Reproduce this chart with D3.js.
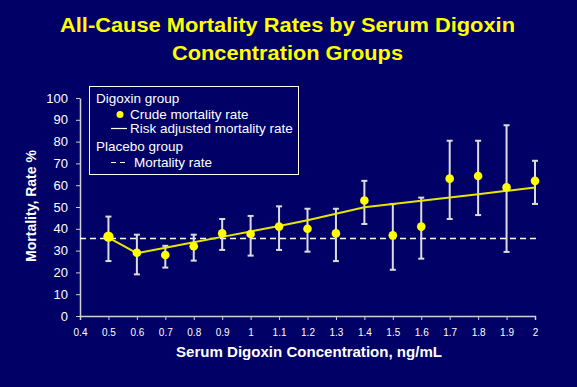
<!DOCTYPE html>
<html>
<head>
<meta charset="utf-8">
<script src="https://cdn.jsdelivr.net/npm/d3@7"></script>
<style>
  html, body { margin: 0; padding: 0; background: #000066; }
  svg { display: block; font-family: Arial, "Liberation Sans", sans-serif; }
</style>
</head>
<body>
<script>
// Serum digoxin concentration groups (ng/mL)
const concentration = [0.5, 0.6, 0.7, 0.8, 0.9, 1.0, 1.1, 1.2, 1.3, 1.4, 1.5, 1.6, 1.7, 1.8, 1.9, 2.0];
// Crude mortality rate (%) with error bar bounds
const crudeRate = [36.4, 29, 28, 32, 37.9, 37.6, 41, 40, 37.9, 53, 37, 41, 63, 64.2, 59, 62];
const crudeLow  = [25.2, 19.1, 22.2, 25.4, 30.3, 27.7, 30.3, 29.5, 25.2, 42.2, 21.2, 26.3, 44.5, 46.3, 29.4, 51.4];
const crudeHigh = [45.6, 37.3, 32.2, 37.3, 44.5, 45.9, 50.3, 49.2, 49.2, 62, 51.4, 54.3, 80.4, 80.4, 87.5, 71.2];
// Risk adjusted mortality rate (%)
const adjustedRate = [36, 28.8, 31.3, 33.8, 36.3, 38.8, 41.3, 43.9, 46.9, 49.9, 51.4, 52.9, 54.4, 55.9, 57.4, 58.9];
// Placebo group mortality rate (%)
const placeboRate = 35.5;

const xTicks = [0.4, 0.5, 0.6, 0.7, 0.8, 0.9, 1, 1.1, 1.2, 1.3, 1.4, 1.5, 1.6, 1.7, 1.8, 1.9, 2];
const yTicks = [0, 10, 20, 30, 40, 50, 60, 70, 80, 90, 100];

const width = 577;
const height = 387;

const svg = d3.select("body").append("svg")
  .attr("width", width)
  .attr("height", height);

svg.append("rect")
  .attr("width", width)
  .attr("height", height)
  .attr("fill", "#000066");

// Title (the slide font is a bit wider than Arial, so stretch to fit)
const title = svg.append("g")
  .attr("fill", "#ffff00")
  .attr("font-weight", "bold")
  .attr("font-size", 19.5);
title.append("text")
  .attr("x", 60).attr("y", 32)
  .attr("textLength", 455).attr("lengthAdjust", "spacingAndGlyphs")
  .text("All-Cause Mortality Rates by Serum Digoxin");
title.append("text")
  .attr("x", 172).attr("y", 60)
  .attr("textLength", 231).attr("lengthAdjust", "spacingAndGlyphs")
  .text("Concentration Groups");

const x = d3.scaleLinear().domain([0.4, 2]).range([80, 535]);
const y = d3.scaleLinear().domain([0, 100]).range([316, 98]);

const axisColor = "#d0d0d8";

// Axes
const xAxis = svg.append("g")
  .attr("transform", `translate(0,${y(0)})`)
  .call(d3.axisBottom(x).tickValues(xTicks).tickSize(4).tickPadding(9).tickFormat(d3.format("")));
xAxis.select(".domain").attr("stroke", axisColor).attr("stroke-width", 1.5);
xAxis.selectAll(".tick line").attr("stroke", axisColor);
xAxis.selectAll(".tick text").attr("fill", "#ffffff").attr("font-size", 10).attr("font-family", "Arial, 'Liberation Sans', sans-serif");

const yAxis = svg.append("g")
  .attr("transform", `translate(${x(0.4)},0)`)
  .call(d3.axisLeft(y).tickValues(yTicks).tickSize(4).tickSizeOuter(0).tickPadding(8));
yAxis.select(".domain").attr("stroke", axisColor).attr("stroke-width", 1.5);
yAxis.selectAll(".tick line").attr("stroke", axisColor);
yAxis.selectAll(".tick text").attr("fill", "#ffffff").attr("font-size", 13).attr("font-family", "Arial, 'Liberation Sans', sans-serif");

// Axis titles
svg.append("text")
  .attr("x", 176).attr("y", 357)
  .attr("textLength", 266).attr("lengthAdjust", "spacingAndGlyphs")
  .attr("fill", "#ffffff")
  .attr("font-weight", "bold")
  .attr("font-size", 14)
  .text("Serum Digoxin Concentration, ng/mL");

svg.append("text")
  .attr("transform", "translate(36,206) rotate(-90)")
  .attr("text-anchor", "middle")
  .attr("fill", "#ffffff")
  .attr("font-weight", "bold")
  .attr("font-size", 14)
  .text("Mortality, Rate %");

// Placebo dashed line
svg.append("line")
  .attr("x1", x(0.4)).attr("x2", x(2) + 4)
  .attr("y1", y(placeboRate)).attr("y2", y(placeboRate))
  .attr("stroke", "#ffffff")
  .attr("stroke-width", 1.5)
  .attr("stroke-dasharray", "6,4");

// Error bars
const bars = svg.append("g")
  .attr("stroke", "#dcdce0")
  .attr("stroke-width", 2);
concentration.forEach((c, i) => {
  bars.append("line")
    .attr("x1", x(c)).attr("x2", x(c))
    .attr("y1", y(crudeLow[i])).attr("y2", y(crudeHigh[i]));
  [crudeLow[i], crudeHigh[i]].forEach(v => {
    bars.append("line")
      .attr("x1", x(c) - 3).attr("x2", x(c) + 3)
      .attr("y1", y(v)).attr("y2", y(v));
  });
});

// Risk adjusted line
svg.append("path")
  .datum(concentration.map((c, i) => [c, adjustedRate[i]]))
  .attr("fill", "none")
  .attr("stroke", "#e6e600")
  .attr("stroke-width", 2)
  .attr("d", d3.line().x(d => x(d[0])).y(d => y(d[1])));

// Crude rate points
svg.append("g")
  .selectAll("circle")
  .data(concentration)
  .join("circle")
  .attr("cx", d => x(d))
  .attr("cy", (d, i) => y(crudeRate[i]))
  .attr("r", (d, i) => i === 0 ? 5.2 : 4.3)
  .attr("fill", "#ffff00");

// Legend
const legend = svg.append("g");
legend.append("rect")
  .attr("x", 89.5).attr("y", 86.5)
  .attr("width", 209).attr("height", 88)
  .attr("fill", "#000066")
  .attr("stroke", "#ffffff")
  .attr("stroke-width", 1);

const legendText = [
  { label: "Digoxin group", tx: 96, ty: 103 },
  { label: "Crude mortality rate", tx: 130, ty: 119 },
  { label: "Risk adjusted mortality rate", tx: 130, ty: 133 },
  { label: "Placebo group", tx: 96, ty: 151 },
  { label: "Mortality rate", tx: 134, ty: 167 }
];
legend.selectAll("text")
  .data(legendText)
  .join("text")
  .attr("x", d => d.tx)
  .attr("y", d => d.ty)
  .attr("fill", "#ffffff")
  .attr("font-size", 13.5)
  .text(d => d.label);

legend.append("circle")
  .attr("cx", 120).attr("cy", 114.5).attr("r", 3.5)
  .attr("fill", "#ffff00");
legend.append("line")
  .attr("x1", 111).attr("x2", 127)
  .attr("y1", 128.5).attr("y2", 128.5)
  .attr("stroke", "#ffffff").attr("stroke-width", 1.2);
legend.append("line")
  .attr("x1", 111).attr("x2", 127)
  .attr("y1", 162.5).attr("y2", 162.5)
  .attr("stroke", "#ffffff").attr("stroke-width", 1.2)
  .attr("stroke-dasharray", "5,4");
</script>
</body>
</html>
